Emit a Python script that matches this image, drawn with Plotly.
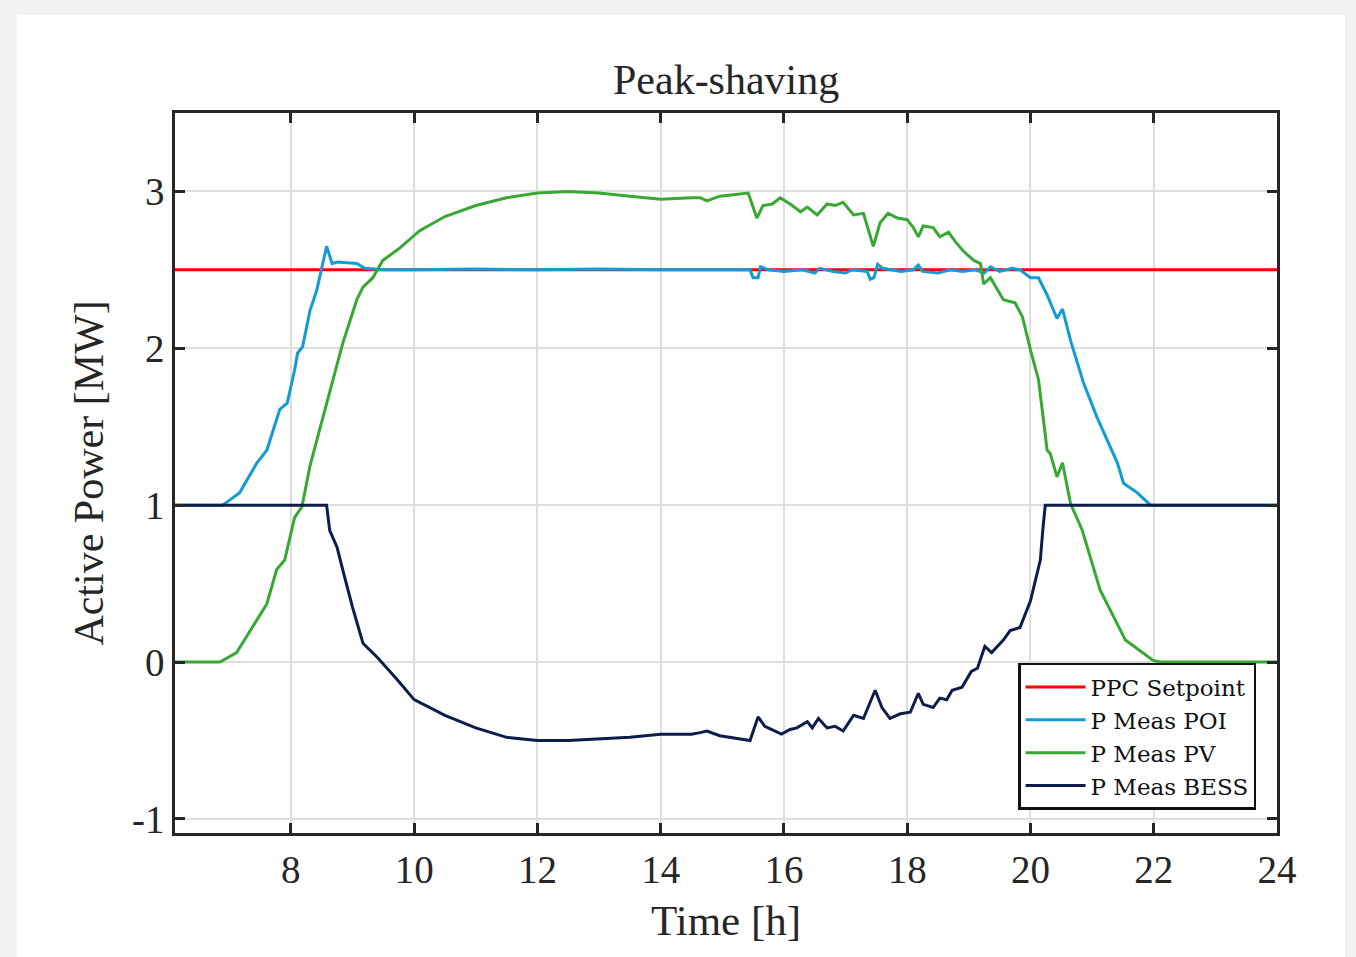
import plotly.graph_objects as go

# ---------------- data ----------------
ppc_t = [6.12, 24.0]
ppc_v = [2.5, 2.5]

poi_t = [6.12, 6.88, 6.93, 7.17, 7.45, 7.61, 7.82, 7.94, 8.06, 8.11, 8.19, 8.31, 8.42, 8.52,
         8.58, 8.67, 8.75, 9.07, 9.2, 9.5, 10.0, 11.0, 12.0, 13.0, 14.0, 15.0, 15.45, 15.50,
         15.58, 15.62, 15.75, 16.0, 16.3, 16.5, 16.58, 16.8, 17.0, 17.1, 17.35, 17.4, 17.46,
         17.52, 17.6, 17.9, 18.1, 18.18, 18.25, 18.5, 18.7, 18.9, 19.1, 19.25, 19.35, 19.5,
         19.7, 19.83, 20.0, 20.13, 20.27, 20.43, 20.52, 20.65, 20.86, 21.08, 21.41, 21.51,
         21.73, 21.95, 24.0]
poi_v = [1.0, 1.0, 1.01, 1.08, 1.27, 1.35, 1.61, 1.65, 1.86, 1.97, 2.01, 2.24, 2.37, 2.54,
         2.65, 2.54, 2.55, 2.54, 2.51, 2.50, 2.50, 2.505, 2.50, 2.505, 2.50, 2.50, 2.50, 2.45,
         2.45, 2.52, 2.50, 2.49, 2.50, 2.48, 2.51, 2.49, 2.48, 2.50, 2.49, 2.44, 2.45,
         2.535, 2.51, 2.49, 2.50, 2.53, 2.49, 2.48, 2.50, 2.49, 2.50, 2.48, 2.52, 2.49,
         2.51, 2.50, 2.45, 2.45, 2.34, 2.19, 2.25, 2.05, 1.78, 1.56, 1.27, 1.14,
         1.08, 1.0, 1.0]

pv_t = [6.12, 6.85, 7.12, 7.45, 7.61, 7.77, 7.90, 8.06, 8.18, 8.31, 8.63, 8.84, 9.07, 9.17,
        9.33, 9.49, 9.77, 10.09, 10.5, 11.0, 11.5, 12.0, 12.5, 13.0, 13.5, 14.0, 14.5, 14.64,
        14.75, 14.96, 15.42, 15.56, 15.66, 15.81, 15.94, 16.1, 16.27, 16.38, 16.54, 16.70,
        16.83, 16.96, 17.13, 17.29, 17.45, 17.56, 17.69, 17.84, 18.0, 18.1, 18.18, 18.26,
        18.42, 18.53, 18.67, 18.78, 18.91, 19.08, 19.19, 19.24, 19.35, 19.56, 19.75, 19.87,
        20.0, 20.13, 20.19, 20.27, 20.32, 20.43, 20.52, 20.65, 20.84, 21.13, 21.54, 21.99,
        22.1, 24.0]
pv_v = [0.0, 0.0, 0.06, 0.27, 0.37, 0.59, 0.65, 0.92, 0.99, 1.25, 1.73, 2.03, 2.31, 2.39,
        2.45, 2.56, 2.64, 2.75, 2.84, 2.91, 2.96, 2.99, 3.0, 2.99, 2.97, 2.95, 2.96, 2.96,
        2.94, 2.97, 2.99, 2.83, 2.91, 2.92, 2.96, 2.92, 2.87, 2.90, 2.85, 2.92,
        2.91, 2.93, 2.85, 2.86, 2.65, 2.80, 2.86, 2.83, 2.82, 2.77, 2.71, 2.78,
        2.77, 2.71, 2.74, 2.68, 2.62, 2.56, 2.54, 2.41, 2.45, 2.31, 2.29, 2.20,
        1.99, 1.80, 1.61, 1.35, 1.33, 1.18, 1.27, 1.01, 0.84, 0.46, 0.14, 0.01,
        0.0, 0.0]

bess_t = [6.12, 8.58, 8.63, 8.75, 8.84, 9.0, 9.17, 9.40, 9.72, 10.0, 10.5, 11.0, 11.5, 12.0,
          12.5, 13.0, 13.5, 14.0, 14.5, 14.64, 14.75, 14.96, 15.45, 15.58, 15.69, 15.96, 16.1,
          16.21, 16.38, 16.46, 16.56, 16.70, 16.83, 16.96, 17.13, 17.29, 17.48, 17.59, 17.72,
          17.89, 18.05, 18.18, 18.26, 18.42, 18.53, 18.64, 18.73, 18.89, 19.04, 19.14, 19.26,
          19.37, 19.56, 19.67, 19.83, 20.0, 20.16, 20.2, 20.24, 24.0]
bess_v = [1.0, 1.0, 0.84, 0.73, 0.59, 0.35, 0.12, 0.03, -0.11, -0.24, -0.34, -0.42, -0.48, -0.50,
          -0.50, -0.49, -0.48, -0.46, -0.46, -0.45, -0.44, -0.47, -0.50, -0.35, -0.41, -0.46, -0.43,
          -0.42, -0.38, -0.42, -0.36, -0.42, -0.41, -0.44, -0.34, -0.36, -0.18, -0.29, -0.36,
          -0.33, -0.32, -0.20, -0.27, -0.29, -0.23, -0.24, -0.18, -0.16, -0.06, -0.04, 0.10,
          0.06, 0.14, 0.20, 0.22, 0.39, 0.65, 0.84, 1.0, 1.0]

x_ticks = [8, 10, 12, 14, 16, 18, 20, 22, 24]
y_ticks = [-1, 0, 1, 2, 3]
y_tick_labels = ["-1", "0", "1", "2", "3"]

# ---------------- figure ----------------
FONT = "Liberation Serif"
fig = go.Figure()
series = [
    ("PPC Setpoint", ppc_t, ppc_v, "#ff0000"),
    ("P Meas POI", poi_t, poi_v, "#129bd6"),
    ("P Meas PV", pv_t, pv_v, "#37a831"),
    ("P Meas BESS", bess_t, bess_v, "#0d1c4b"),
]
for name, t, v, c in series:
    fig.add_trace(go.Scatter(x=t, y=v, name=name, mode="lines",
                             line=dict(color=c, width=3)))

axis_common = dict(
    showline=True, linecolor="#262626", linewidth=2.5, mirror="ticks",
    ticks="inside", ticklen=10, tickwidth=2.5, tickcolor="#262626",
    showgrid=True, gridcolor="#dedede", gridwidth=2, zeroline=False,
    tickfont=dict(family=FONT, size=39, color="#262626"),
)

fig.update_layout(
    width=1356, height=957,
    paper_bgcolor="#f2f2f2", plot_bgcolor="white",
    margin=dict(l=175, r=79, t=113, b=124),
    title=dict(text="Peak-shaving", x=0.5355, xanchor="center", y=0.917, yanchor="middle",
               font=dict(family=FONT, size=42, color="#262626")),
    xaxis=dict(range=[6.12, 24], tickvals=x_ticks,
               title=dict(text="Time [h]", font=dict(family=FONT, size=43, color="#262626"),
                          standoff=16),
               **axis_common),
    yaxis=dict(range=[-1.09, 3.5], tickvals=y_ticks, ticktext=y_tick_labels,
               title=dict(text="Active Power [MW]", font=dict(family=FONT, size=42, color="#262626"),
                          standoff=16),
               **axis_common),
    legend=dict(x=0.981, xanchor="right", y=0.032, yanchor="bottom",
                bgcolor="white", bordercolor="#111111", borderwidth=2.5,
                font=dict(family="DejaVu Serif", size=23, color="#111111"),
                tracegroupgap=0, itemwidth=60),
    showlegend=True,
    shapes=[dict(type="rect", xref="paper", yref="paper", layer="below",
                 x0=(17 - 175) / 1102, x1=(1345 - 175) / 1102,
                 y0=(833 - 960) / 720, y1=(833 - 15) / 720,
                 fillcolor="white", line=dict(width=0))],
)

fig.write_html("out.html",
               config={"displayModeBar": False},
               post_script="document.body.style.margin='0';document.body.style.padding='0';"
                           "document.body.style.overflow='hidden';")
